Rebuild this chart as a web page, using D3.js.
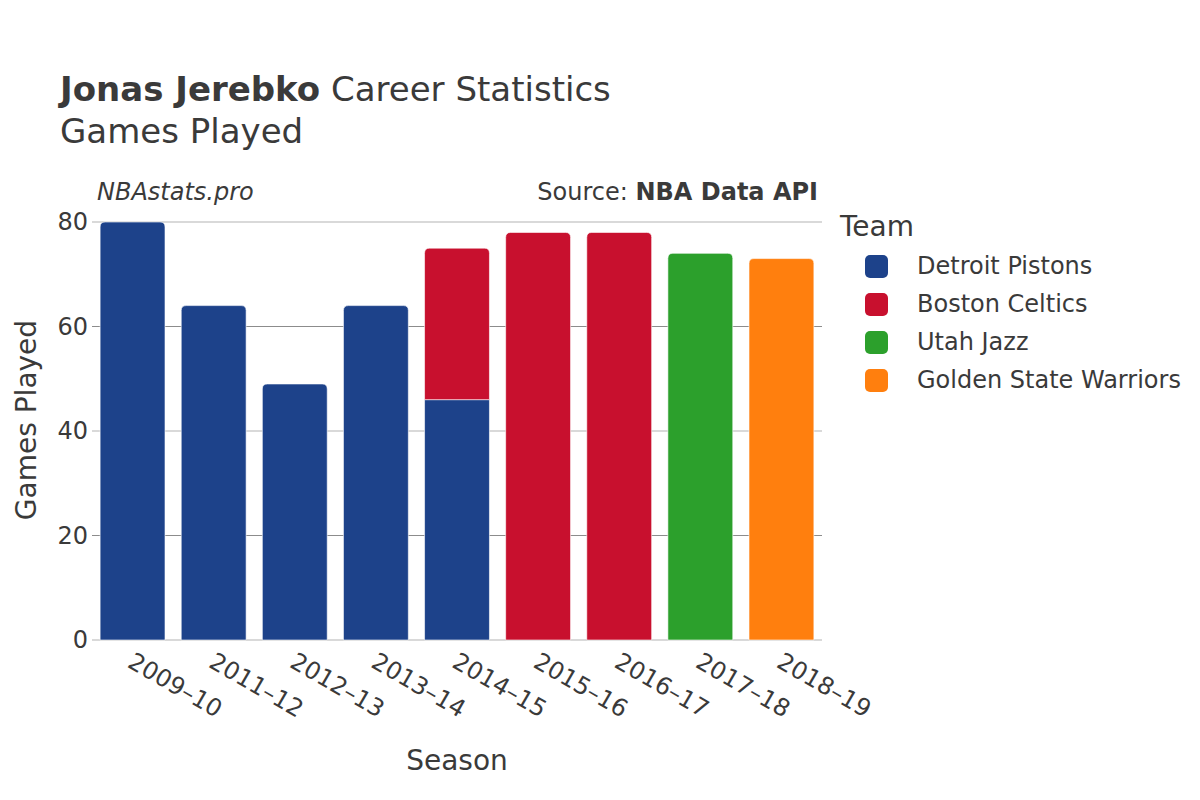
<!DOCTYPE html>
<html>
<head>
<meta charset="utf-8">
<script src="https://cdn.jsdelivr.net/npm/d3@7"></script>
<style>
  body { margin: 0; background: #fff; }
  text { font-family: "DejaVu Sans", sans-serif; fill: #3a3a3a; }
</style>
</head>
<body>
<script>
// data
const seasons = ["2009–10", "2011–12", "2012–13", "2013–14", "2014–15", "2015–16", "2016–17", "2017–18", "2018–19"]
const teams = ["Detroit Pistons", "Boston Celtics", "Utah Jazz", "Golden State Warriors"]
const teamColors = ["#1d428a", "#c8102e", "#2ca02c", "#ff7f0e"]
const pistons = [80, 64, 49, 64, 46, 0, 0, 0, 0]
const celtics = [0, 0, 0, 0, 29, 78, 78, 0, 0]
const jazz = [0, 0, 0, 0, 0, 0, 0, 74, 0]
const warriors = [0, 0, 0, 0, 0, 0, 0, 0, 73]
const yTicks = [0, 20, 40, 60, 80]

const width = 1200, height = 800
const svg = d3.select("body").append("svg").attr("width", width).attr("height", height)

const x = d3.scaleBand().domain(seasons).range([92, 822]).paddingInner(0.2).paddingOuter(0.1)
const y = d3.scaleLinear().domain([0, 80]).range([640, 222])

// grid
svg.append("g").selectAll("line")
    .data(yTicks)
    .enter()
    .append("line")
    .attr("x1", 92).attr("x2", 822)
    .attr("y1", d => y(d)).attr("y2", d => y(d))
    .attr("stroke", (d, i) => i % 2 == 0 ? "#d9d9d9" : "#8c8c8c")
    .attr("stroke-width", (d, i) => i % 2 == 0 ? 2 : 1)

svg.append("g").selectAll("text")
    .data(yTicks)
    .enter()
    .append("text")
    .attr("x", 88).attr("y", d => y(d))
    .attr("dy", "0.35em")
    .attr("text-anchor", "end")
    .attr("font-size", 24)
    .text(d => d)

// stacked bars
const rows = seasons.map((s, i) => ({ season: s, v: [pistons[i], celtics[i], jazz[i], warriors[i]] }))
const segs = []
rows.forEach(r => {
    let base = 0
    const total = d3.sum(r.v)
    r.v.forEach((v, t) => {
        if (v > 0) {
            segs.push({ season: r.season, team: t, y0: base, y1: base + v, top: base + v == total })
            base += v
        }
    })
})

function segPath(d) {
    const x0 = x(d.season), w = x.bandwidth()
    const yb = y(d.y0), yt = y(d.y1)
    const r = d.top ? 5 : 0
    return `M${x0},${yb}V${yt + r}Q${x0},${yt} ${x0 + r},${yt}H${x0 + w - r}Q${x0 + w},${yt} ${x0 + w},${yt + r}V${yb}Z`
}

svg.append("g").selectAll("path")
    .data(segs)
    .enter()
    .append("path")
    .attr("d", segPath)
    .attr("fill", d => teamColors[d.team])
    .attr("stroke", "#ffffff")
    .attr("stroke-opacity", 0.6)
    .attr("stroke-width", 1)

// x labels
svg.append("g").selectAll("text")
    .data(seasons)
    .enter()
    .append("text")
    .attr("transform", d => `translate(${x(d) + x.bandwidth() / 2 - 2},${659}) rotate(30)`)
    .attr("dy", "0.35em")
    .attr("font-size", 24)
    .text(d => d)

// titles
const title = svg.append("text").attr("x", 60).attr("y", 101).attr("font-size", 34)
title.append("tspan").attr("font-weight", "bold").text("Jonas Jerebko")
title.append("tspan").text(" Career Statistics")
svg.append("text").attr("x", 60).attr("y", 143).attr("font-size", 34).text("Games Played")

svg.append("text").attr("x", 97).attr("y", 200).attr("font-size", 24)
    .attr("font-style", "italic").text("NBAstats.pro")
const src = svg.append("text").attr("x", 818).attr("y", 200).attr("font-size", 24).attr("text-anchor", "end")
src.append("tspan").text("Source: ")
src.append("tspan").attr("font-weight", "bold").text("NBA Data API")

svg.append("text").attr("x", 457).attr("y", 770).attr("font-size", 28)
    .attr("text-anchor", "middle").text("Season")
svg.append("text").attr("transform", "translate(26,420) rotate(-90)")
    .attr("dy", "0.35em")
    .attr("font-size", 28).attr("text-anchor", "middle").text("Games Played")

// legend
svg.append("text").attr("x", 840).attr("y", 236).attr("font-size", 28).text("Team")
const leg = svg.append("g").selectAll("g")
    .data(teams)
    .enter()
    .append("g")
    .attr("transform", (d, i) => `translate(0,${266 + i * 38})`)
leg.append("rect")
    .attr("x", 865).attr("y", -11).attr("width", 23).attr("height", 23).attr("rx", 5)
    .attr("fill", (d, i) => teamColors[i])
leg.append("text")
    .attr("x", 917).attr("dy", "0.35em").attr("font-size", 24)
    .text(d => d)
</script>
</body>
</html>
